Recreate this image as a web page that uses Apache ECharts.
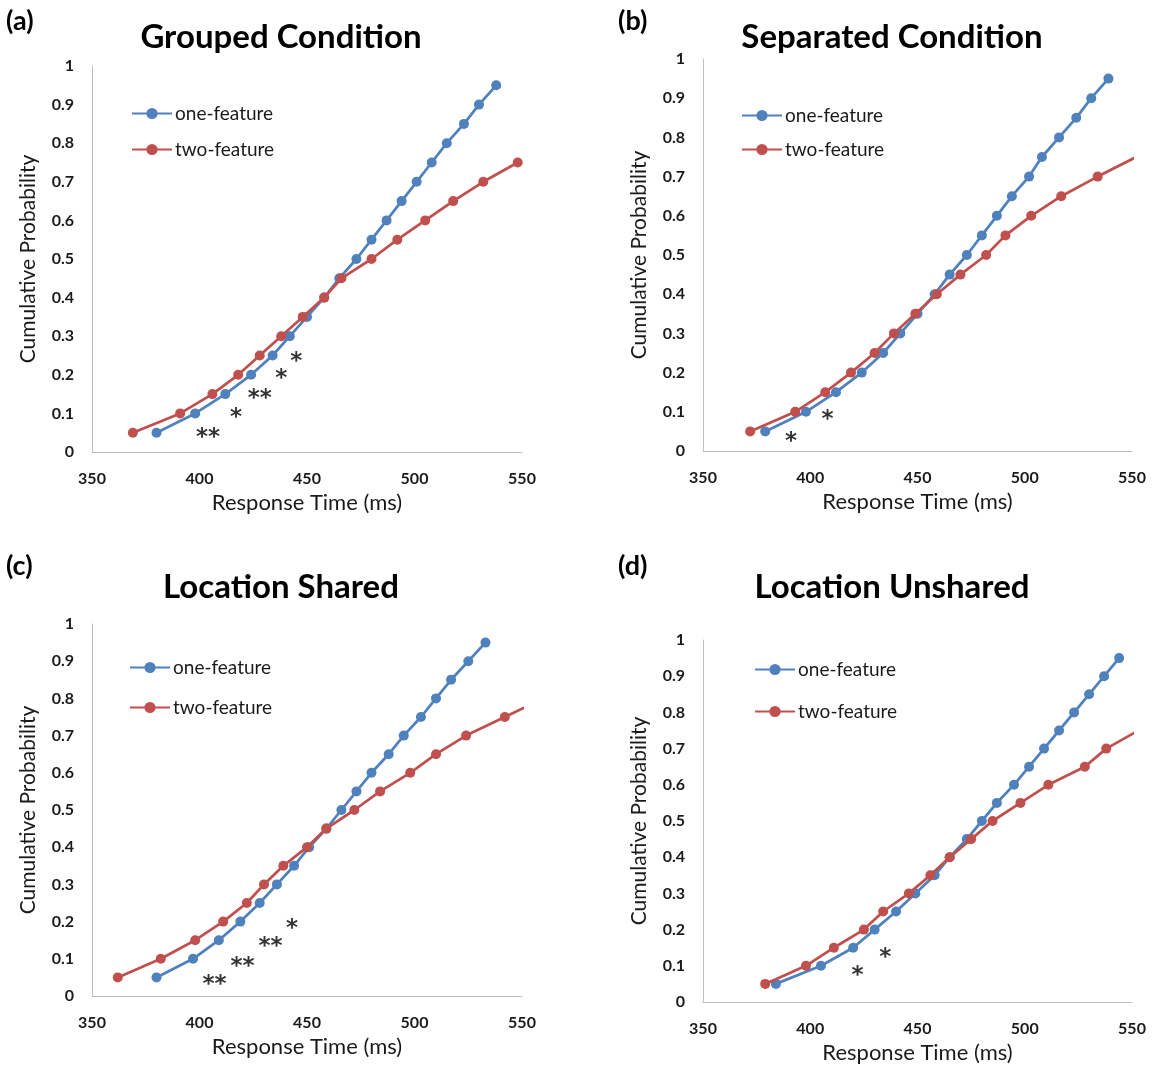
<!DOCTYPE html>
<html>
<head>
<meta charset="utf-8">
<script src="https://cdn.jsdelivr.net/npm/echarts@6/dist/echarts.min.js"></script>
<style>
html,body{margin:0;padding:0;background:#fff;}
#c{width:1153px;height:1067px;}
</style>
</head>
<body>
<div id="c"></div>
<script>
// ---- data ----
var xTicks = [350, 400, 450, 500, 550];
var yTicks = [0, 0.1, 0.2, 0.3, 0.4, 0.5, 0.6, 0.7, 0.8, 0.9, 1];
var panelTitles = ['Grouped Condition', 'Separated Condition', 'Location Shared', 'Location Unshared'];
var panelLetters = ['(a)', '(b)', '(c)', '(d)'];
var seriesNames = ['one-feature', 'two-feature'];

var probOne = [0.05,0.10,0.15,0.20,0.25,0.30,0.35,0.40,0.45,0.50,0.55,0.60,0.65,0.70,0.75,0.80,0.85,0.90,0.95];
var probTwo15 = [0.05,0.10,0.15,0.20,0.25,0.30,0.35,0.40,0.45,0.50,0.55,0.60,0.65,0.70,0.75];
var probTwo16 = [0.05,0.10,0.15,0.20,0.25,0.30,0.35,0.40,0.45,0.50,0.55,0.60,0.65,0.70,0.75,0.80];

// (a) Grouped Condition
var groupedOneRT = [380,398,412,424,434,442,450,458,465,473,480,487,494,501,508,515,523,530,538];
var groupedTwoRT = [369,391,406,418,428,438,448,458,466,480,492,505,518,532,548];
var groupedStars = [[404,0.052,'**'],[417,0.104,'*'],[428,0.153,'**'],[438,0.205,'*'],[445,0.249,'*']];

// (b) Separated Condition
var separatedOneRT = [379,398,412,424,434,442,450,458,465,473,480,487,494,502,508,516,524,531,539];
var separatedTwoRT = [372,393,407,419,430,439,449,459,470,482,491,503,517,534,552];
var separatedStars = [[391,0.039,'*'],[408,0.094,'*']];

// (c) Location Shared
var sharedOneRT = [380,397,409,419,428,436,444,451,459,466,473,480,488,495,503,510,517,525,533];
var sharedTwoRT = [362,382,398,411,422,430,439,450,459,472,484,498,510,524,542,560];
var sharedStars = [[407,0.045,'**'],[420,0.094,'**'],[433,0.148,'**'],[443,0.197,'*']];

// (d) Location Unshared
var unsharedOneRT = [384,405,420,430,440,449,458,465,473,480,487,495,502,509,516,523,530,537,544];
var unsharedTwoRT = [379,398,411,425,434,446,456,465,475,485,498,511,528,538,553];
var unsharedStars = [[422,0.088,'*'],[435,0.138,'*']];

// ---- build ----
function pairs(xs, ys){ var o=[]; for (var i=0;i<xs.length;i++) o.push([xs[i], ys[i]]); return o; }

var panels = [
  {one: pairs(groupedOneRT, probOne), two: pairs(groupedTwoRT, probTwo15), stars: groupedStars},
  {one: pairs(separatedOneRT, probOne), two: pairs(separatedTwoRT, probTwo15), stars: separatedStars},
  {one: pairs(sharedOneRT, probOne), two: pairs(sharedTwoRT, probTwo16), stars: sharedStars},
  {one: pairs(unsharedOneRT, probOne), two: pairs(unsharedTwoRT, probTwo15), stars: unsharedStars}
];

var FONT = 'Lato, "Open Sans", sans-serif';
var BLUE = '#4F81BD', RED = '#C0504D', AXIS = '#BFBFBF', TXT = '#1a1a1a';

var grids = [
  {left: 92, top: 66, width: 430, height: 386},
  {left: 703, top: 59, width: 429, height: 392},
  {left: 92, top: 624, width: 430, height: 372},
  {left: 703, top: 640, width: 429, height: 362}
];
var legendPos = [
  {left: 131, top: 104, gap: 17},
  {left: 741, top: 106, gap: 15},
  {left: 129, top: 658, gap: 21},
  {left: 754, top: 660, gap: 23}
];
var titlePos = [
  {x: 281, y: 37}, {x: 892, y: 37}, {x: 281, y: 587}, {x: 892, y: 587}
];
var letterPos = [
  {x: 6, y: 22}, {x: 618, y: 22}, {x: 6, y: 567}, {x: 618, y: 567}
];

var xAxes = [], yAxes = [], series = [], legends = [], titles = [];
for (var p=0; p<4; p++){
  xAxes.push({
    gridIndex: p, type: 'value', min: xTicks[0], max: xTicks[xTicks.length-1], interval: xTicks[1]-xTicks[0],
    name: 'Response Time (ms)', nameLocation: 'middle', nameGap: 40,
    nameTextStyle: {fontFamily: FONT, fontSize: 22, color: TXT},
    axisLine: {show: true, lineStyle: {color: AXIS, width: 1}},
    axisTick: {show: false}, splitLine: {show: false},
    axisLabel: {fontFamily: FONT, fontSize: 16, fontWeight: 'bold', color: TXT, margin: 19}
  });
  yAxes.push({
    gridIndex: p, type: 'value', min: yTicks[0], max: yTicks[yTicks.length-1], interval: yTicks[1]-yTicks[0],
    name: 'Cumulative Probability', nameLocation: 'middle', nameGap: 53, nameRotate: 90,
    nameTextStyle: {fontFamily: FONT, fontSize: 21, color: TXT},
    axisLine: {show: true, lineStyle: {color: AXIS, width: 1}},
    axisTick: {show: false}, splitLine: {show: false},
    axisLabel: {fontFamily: FONT, fontSize: 16, fontWeight: 'bold', color: TXT, margin: 18,
      formatter: function(v){ return String(Math.round(v*10)/10); }}
  });
  series.push({
    name: seriesNames[0], type: 'line', xAxisIndex: p, yAxisIndex: p, data: panels[p].one,
    symbol: 'circle', symbolSize: 10, lineStyle: {color: BLUE, width: 2.75}, itemStyle: {color: BLUE},
    z: 3, animation: false
  });
  series.push({
    name: seriesNames[1], type: 'line', xAxisIndex: p, yAxisIndex: p, data: panels[p].two,
    symbol: 'circle', symbolSize: 10, lineStyle: {color: RED, width: 2.75}, itemStyle: {color: RED},
    z: 4, animation: false
  });
  series.push({
    name: 'sig', type: 'scatter', xAxisIndex: p, yAxisIndex: p, data: panels[p].stars,
    symbolSize: 0, animation: false, silent: true,
    label: {show: true, position: 'inside', offset: [0, 6],
      formatter: function(d){ return d.value[2]; },
      fontFamily: 'DejaVu Sans', fontSize: 23, fontWeight: 'bold', color: '#000'}
  });
  legends.push({
    data: seriesNames.slice(), orient: 'vertical', left: legendPos[p].left, top: legendPos[p].top,
    padding: 0,
    itemWidth: 40, itemHeight: 14, itemGap: legendPos[p].gap, selectedMode: false,
    textStyle: {fontFamily: FONT, fontSize: 19, color: TXT, padding: [0,0,0,-2]}
  });
  titles.push({
    text: panelTitles[p], left: titlePos[p].x, top: titlePos[p].y, textAlign: 'center', textVerticalAlign: 'middle',
    padding: 0,
    textStyle: {fontFamily: FONT, fontSize: 33, fontWeight: 'bold', color: '#000'}
  });
  titles.push({
    text: panelLetters[p], left: letterPos[p].x, top: letterPos[p].y - 14, padding: 0,
    textStyle: {fontFamily: FONT, fontSize: 27, fontWeight: 'bold', color: '#000'}
  });
}

var chart = echarts.init(document.getElementById('c'), null, {renderer: 'canvas'});
chart.setOption({
  backgroundColor: '#fff',
  animation: false,
  title: titles,
  grid: grids,
  xAxis: xAxes,
  yAxis: yAxes,
  legend: legends,
  series: series
});
</script>
</body>
</html>
